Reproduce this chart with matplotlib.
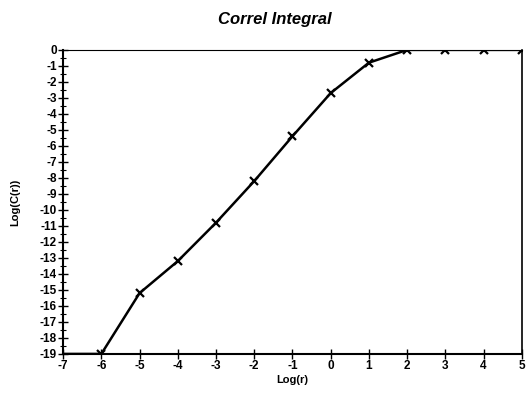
import matplotlib.pyplot as plt
from matplotlib.ticker import MultipleLocator

plt.rcParams['font.family'] = ['Liberation Sans', 'DejaVu Sans']
plt.rcParams['axes.unicode_minus'] = False

# correlation integral, log-log
log_r = [-7, -6, -5, -4, -3, -2, -1, 0, 1, 2, 3, 4, 5]
log_c = [-19, -19, -15.2, -13.2, -10.8, -8.2, -5.4, -2.7, -0.8, 0, 0, 0, 0]

fig = plt.figure(figsize=(5.26, 3.99), dpi=100)
ax = fig.add_axes([0.12, 0.113, 0.872, 0.762])

ax.plot(log_r, log_c, color='black', lw=1.8)
ax.plot(log_r[1:], log_c[1:], ls='none', marker='x', color='black',
        markersize=6, markeredgewidth=1.6)

ax.set_xlim(-7, 5)
ax.set_ylim(-19, 0)
ax.xaxis.set_major_locator(MultipleLocator(1))
ax.yaxis.set_major_locator(MultipleLocator(1))
ax.yaxis.set_minor_locator(MultipleLocator(0.5))

ax.tick_params(axis='both', which='major', direction='inout', length=7, width=1,
               labelsize=8.5, pad=1)
ax.tick_params(axis='y', which='minor', direction='inout', length=4, width=0.8)
for lab in ax.get_xticklabels() + ax.get_yticklabels():
    lab.set_fontweight('bold')

for s in ['left', 'bottom']:
    ax.spines[s].set_linewidth(1.5)
ax.spines['top'].set_linewidth(0.8)
ax.spines['right'].set_linewidth(1.2)

ax.set_xlabel('Log(r)', fontsize=8, fontweight='bold', labelpad=2)
ax.set_ylabel('Log(C(r))', fontsize=8, fontweight='bold', labelpad=14)
fig.suptitle('Correl Integral', x=0.523, y=0.97, fontsize=12,
             fontweight='bold', style='italic')

fig.savefig('out.png', dpi=100)
